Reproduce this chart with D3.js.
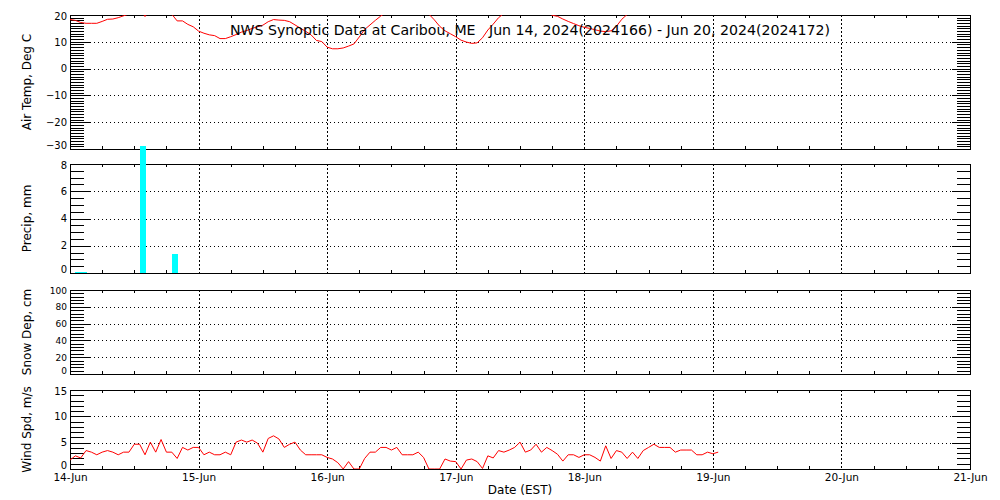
<!DOCTYPE html>
<html>
<head>
<meta charset="utf-8">
<script src="https://cdn.jsdelivr.net/npm/d3@7"></script>
<style>
  html, body { margin: 0; padding: 0; background: #fff; }
  svg { display: block; font-family: "DejaVu Sans", sans-serif; }
  .axis path.domain { display: none; }
  .axis line { stroke: #000; shape-rendering: crispEdges; }
  .grid line { stroke: #000; shape-rendering: crispEdges; }
  .grid path.domain { display: none; }
</style>
</head>
<body>
<svg id="chart" width="1000" height="500"></svg>
<script>
// ---------------- DATA ----------------
const titleText = "NWS Synoptic Data at Caribou, ME   Jun 14, 2024(2024166) - Jun 20, 2024(2024172)";
const dayLabels = ["14-Jun", "15-Jun", "16-Jun", "17-Jun", "18-Jun", "19-Jun", "20-Jun", "21-Jun"];
const xTitle = "Date (EST)";

// hourly air temperature, deg C, from 14-Jun 00:00 (values above 20 are off-panel)
const airTemp = [
  18.3, 18.0, 17.2, 16.9, 16.9, 16.9, 17.6, 18.4, 18.5, 19.0, 19.7, 20.4,
  21.5, 22.5, 19.4, 22.5, 23.5, 23.0, 22.0, 20.3, 17.8, 17.8, 16.5, 15.6,
  14.0, 13.2, 12.6, 12.3, 11.2, 11.2, 11.9, 12.7, 13.6, 14.2, 15.0, 15.6,
  16.2, 17.5, 18.3, 18.1, 18.0, 17.5, 16.3, 15.1, 13.9, 12.6, 10.5, 10.1,
  8.0, 7.4, 7.4, 7.7, 8.4, 9.2, 11.8, 14.6, 16.3, 18.0, 19.6, 21.0,
  22.5, 23.5, 24.5, 25.0, 24.5, 23.5, 22.0, 20.3, 18.2, 15.8, 14.1, 13.0,
  11.9, 10.6, 9.9, 9.4, 9.6, 11.5, 14.4, 16.6, 19.0, 20.6, 22.0, 23.5,
  24.5, 25.0, 25.0, 24.0, 22.5, 21.0, 19.9, 19.5, 18.5, 17.6, 16.8, 16.0,
  15.4, 15.0, 14.5, 14.0, 13.8, 14.1, 15.8, 18.4, 20.2, 21.5, 23.0, 24.0,
  25.0, 26.0, 26.5, 26.5, 26.0, 25.0, 24.0, 23.0, 22.0, 21.5, 21.0, 20.8,
  20.5, 20.5
];

// hourly precipitation, mm (hour offset from 14-Jun 00:00)
const precipHours = [1, 2, 13, 19];
const precipMm    = [0.1, 0.1, 9.3, 1.4];

// snow depth, cm (no reports)
const snowHours = [];
const snowDepth = [];

// hourly wind speed, m/s, from 14-Jun 00:00
const windSpd = [
  1.7, 2.5, 2.1, 3.5, 3.2, 2.7, 3.2, 3.5, 3.2, 2.7, 3.2, 3.2,
  4.7, 4.7, 2.7, 5.1, 3.2, 5.6, 3.2, 3.2, 2.0, 4.1, 3.6, 4.1,
  4.1, 2.7, 3.2, 2.7, 2.7, 3.2, 2.7, 5.1, 5.5, 5.1, 5.5, 4.9,
  3.2, 5.8, 6.3, 5.7, 4.1, 4.7, 5.1, 3.6, 2.7, 2.7, 2.7, 2.7,
  2.2, 1.9, 1.2, 0.0, 1.4, 0.0, 0.0, 2.0, 3.2, 3.2, 4.1, 4.1,
  3.6, 4.1, 2.7, 2.7, 2.7, 3.2, 2.2, 0.0, 0.0, 0.0, 1.9, 1.5,
  1.4, 0.0, 1.7, 1.9, 1.4, 0.1, 2.5, 2.1, 3.5, 3.2, 3.6, 4.1,
  5.1, 3.2, 3.6, 4.7, 3.2, 4.1, 3.5, 2.8, 1.5, 2.7, 2.7, 2.2,
  2.7, 2.7, 2.2, 1.5, 4.4, 2.0, 3.5, 3.2, 2.0, 3.2, 2.0, 3.5,
  4.1, 4.7, 4.1, 4.1, 4.1, 3.2, 3.6, 3.6, 3.6, 2.7, 2.7, 3.2,
  2.9, 3.2
];

// axis tick values
const tempTicks   = [-30, -20, -10, 0, 10, 20];
const precipTicks = [0, 2, 4, 6, 8];
const snowTicks   = [0, 20, 40, 60, 80, 100];
const windTicks   = [0, 5, 10, 15];

// ---------------- LAYOUT ----------------
const svg = d3.select("#chart");
const X0 = 70, X1 = 970;
const start = new Date(Date.UTC(2024, 5, 14));
const end = new Date(Date.UTC(2024, 5, 21));
const hourToDate = h => new Date(start.getTime() + h * 3600e3);
const x = d3.scaleUtc().domain([start, end]).range([X0, X1]);
const days = d3.range(0, 8).map(d => hourToDate(d * 24));

const panels = [
  { label: "Air Temp, Deg C", top: 15, bottom: 149, domain: [-30, 20], ticks: tempTicks, minor: 1, fs: 10 },
  { label: "Precip, mm",      top: 164, bottom: 273, domain: [0, 8],    ticks: precipTicks, minor: 0.5, fs: 10 },
  { label: "Snow Dep, cm",    top: 290, bottom: 374, domain: [0, 100],  ticks: snowTicks, minor: 4, fs: 9 },
  { label: "Wind Spd, m/s",   top: 390, bottom: 469, domain: [0, 15],   ticks: windTicks, minor: 1, fs: 10 }
];

panels.forEach((p, i) => {
  p.y = d3.scaleLinear().domain(p.domain).range([p.bottom, p.top]);
  const g = svg.append("g");
  const h = p.bottom - p.top;
  const inner = p.ticks.slice(1, -1);
  const minorVals = d3.range(p.domain[0], p.domain[1] + 1e-9, p.minor);

  // horizontal dotted grid
  g.append("g").attr("class", "grid")
    .attr("transform", `translate(${X0},0)`)
    .call(d3.axisRight(p.y).tickValues(inner).tickSize(X1 - X0).tickFormat(""))
    .selectAll("line").attr("stroke-dasharray", "1,3");

  // vertical dashed day grid
  g.append("g").attr("class", "grid")
    .attr("transform", `translate(0,${p.top})`)
    .call(d3.axisBottom(x).tickValues(days.slice(1, -1)).tickSize(h).tickFormat(""))
    .selectAll("line").attr("stroke-dasharray", "2,2");

  // clip path
  svg.append("clipPath").attr("id", "clip" + i)
    .append("rect").attr("x", X0).attr("y", p.top).attr("width", X1 - X0).attr("height", h);

  // minor y ticks left/right
  g.append("g").attr("class", "axis").attr("transform", `translate(${X0},0)`)
    .call(d3.axisRight(p.y).tickValues(minorVals).tickSize(14).tickFormat(""));
  g.append("g").attr("class", "axis").attr("transform", `translate(${X1},0)`)
    .call(d3.axisLeft(p.y).tickValues(minorVals).tickSize(13).tickFormat(""));
  // major y ticks
  g.append("g").attr("class", "axis").attr("transform", `translate(${X0},0)`)
    .call(d3.axisRight(p.y).tickValues(p.ticks).tickSize(20).tickFormat(""));
  g.append("g").attr("class", "axis").attr("transform", `translate(${X1},0)`)
    .call(d3.axisLeft(p.y).tickValues(p.ticks).tickSize(18).tickFormat(""));
  // y labels
  const lab = g.append("g").attr("transform", `translate(${X0},0)`)
    .call(d3.axisLeft(p.y).tickValues(p.ticks).tickSize(0).tickPadding(3).tickFormat(d => d < 0 ? "\u2212" + Math.abs(d) : d));
  lab.select("path.domain").remove();
  lab.selectAll("text").attr("font-size", p.fs).attr("font-family", "DejaVu Sans").attr("fill", "#000")
    .attr("y", d => d === p.domain[0] ? -3.5 : (d === p.domain[1] ? 1 : 0));

  // x minor ticks (6 h) top & bottom
  const sixH = d3.utcHour.every(6).range(start, end).filter(d => d.getUTCHours() !== 0);
  g.append("g").attr("class", "axis").attr("transform", `translate(0,${p.top})`)
    .call(d3.axisBottom(x).tickValues(sixH).tickSize(3).tickFormat(""));
  g.append("g").attr("class", "axis").attr("transform", `translate(0,${p.bottom})`)
    .call(d3.axisTop(x).tickValues(sixH).tickSize(3).tickFormat(""));

  // frame
  g.append("rect").attr("x", X0 + 0.5).attr("y", p.top + 0.5)
    .attr("width", X1 - X0).attr("height", h)
    .attr("fill", "none").attr("stroke", "#000").attr("shape-rendering", "crispEdges");

  // y title
  svg.append("text")
    .attr("transform", `translate(31,${(p.top + p.bottom) / 2}) rotate(-90)`)
    .attr("text-anchor", "middle").attr("font-size", 12).attr("fill", "#000")
    .text(p.label);
});

// ---------------- MARKS ----------------
const [pT, pP, pS, pW] = panels;

const tempLine = d3.line().x((d, i) => x(hourToDate(i))).y(d => pT.y(d));
svg.append("path").datum(airTemp)
  .attr("clip-path", "url(#clip0)")
  .attr("d", tempLine).attr("fill", "none").attr("stroke", "#ff0000").attr("stroke-width", 1);

// precip bars (not clipped, as in the source)
svg.append("g").selectAll("rect").data(precipHours).join("rect")
  .attr("x", h => x(hourToDate(h)))
  .attr("width", h => x(hourToDate(h + 1.1)) - x(hourToDate(h)))
  .attr("y", (h, i) => pP.y(precipMm[i]))
  .attr("height", (h, i) => pP.y(0) - pP.y(precipMm[i]))
  .attr("fill", "#00ffff").attr("shape-rendering", "crispEdges");

// snow (no data)
svg.append("path").datum(snowDepth)
  .attr("clip-path", "url(#clip2)")
  .attr("d", d3.line().x((d, i) => x(hourToDate(snowHours[i]))).y(d => pS.y(d)))
  .attr("fill", "none").attr("stroke", "#ff0000");

const windLine = d3.line().x((d, i) => x(hourToDate(i))).y(d => pW.y(d));
svg.append("path").datum(windSpd)
  .attr("clip-path", "url(#clip3)")
  .attr("d", windLine).attr("fill", "none").attr("stroke", "#ff0000").attr("stroke-width", 1);

// x tick labels
const xl = svg.append("g").attr("transform", `translate(0,${pW.bottom})`)
  .call(d3.axisBottom(x).tickValues(days).tickSize(0).tickPadding(5).tickFormat((d, i) => dayLabels[i]));
xl.select("path.domain").remove();
xl.selectAll("text").attr("font-size", 10.5).attr("font-family", "DejaVu Sans").attr("fill", "#000");

svg.append("text").attr("x", (X0 + X1) / 2).attr("y", 494)
  .attr("text-anchor", "middle").attr("font-size", 12).attr("fill", "#000").text(xTitle);

// title
svg.append("text").attr("x", 230).attr("y", 35)
  .attr("font-size", 13.5).attr("fill", "#000")
  .attr("textLength", 600).attr("lengthAdjust", "spacingAndGlyphs")
  .style("white-space", "pre")
  .text(titleText);
</script>
</body>
</html>
